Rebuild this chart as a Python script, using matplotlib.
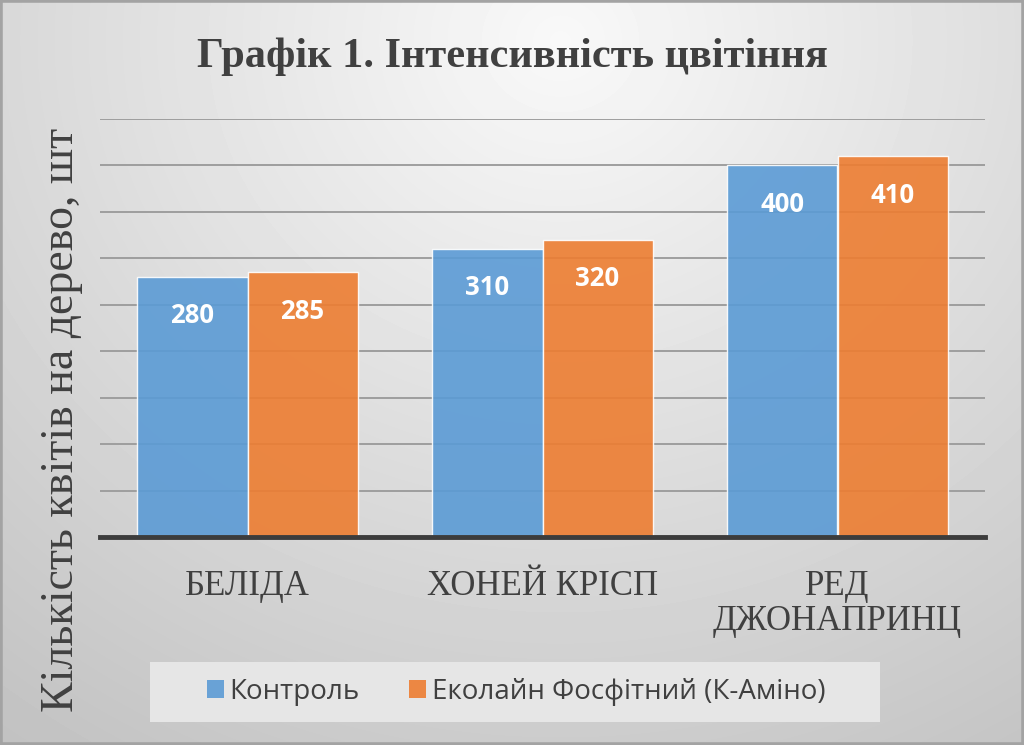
import numpy as np
import matplotlib
matplotlib.use("Agg")
import matplotlib.pyplot as plt
from matplotlib.patches import Rectangle, Patch

# data
categories = ["БЕЛІДА", "ХОНЕЙ КРІСП", "РЕД\nДЖОНАПРИНЦ"]
control = [280, 310, 400]
ecoline = [285, 320, 410]
series_names = ["Контроль", "Еколайн Фосфітний (К-Аміно)"]
title = "Графік 1. Інтенсивність цвітіння"
ylabel = "Кількість квітів на дерево, шт"

W, H = 1024, 745
fig = plt.figure(figsize=(W / 100, H / 100), dpi=100)

# gradient background
bg = fig.add_axes([0, 0, 1, 1], zorder=-10)
yy, xx = np.mgrid[0:H, 0:W]
d = np.sqrt(((xx - 560) / 700.0) ** 2 + ((yy - 40) / 640.0) ** 2)
shade = np.clip(0.975 - 0.16 * d, 0, 1)
bg.imshow(shade, cmap="gray", vmin=0, vmax=1, aspect="auto",
          extent=[0, 1, 0, 1], origin="upper")
bg.set_xlim(0, 1)
bg.set_ylim(0, 1)
bg.axis("off")
bg.add_patch(Rectangle((0, 0), 1, 1, transform=bg.transAxes, fill=False,
                       edgecolor="#a3a3a3", linewidth=4))

# main axes
ax = fig.add_axes([100 / W, 1 - 537 / H, 885 / W, 418 / H])
ax.set_facecolor("none")
x = np.arange(len(categories))
bw = 0.373
b1 = ax.bar(x - bw / 2, control, bw, color="#5B9BD5", alpha=0.9,
            edgecolor="white", linewidth=1, label=series_names[0])
b2 = ax.bar(x + bw / 2, ecoline, bw, color="#ED7D31", alpha=0.9,
            edgecolor="white", linewidth=1, label=series_names[1])

for bars in (b1, b2):
    for r in bars:
        ax.annotate(f"{r.get_height():.0f}",
                    (r.get_x() + r.get_width() / 2, r.get_height()),
                    xytext=(0, -28), textcoords="offset points",
                    ha="center", va="center", color="white",
                    fontsize=18.5, fontweight="bold",
                    family=["Open Sans", "DejaVu Sans"])

ax.set_xlim(-0.5, 2.5)
ax.set_ylim(0, 450)
ax.set_yticks(np.arange(0, 451, 50))
ax.yaxis.grid(True, color="#9e9e9e", linewidth=1.4)
ax.set_axisbelow(True)
ax.tick_params(axis="y", left=False, labelleft=False)
ax.tick_params(axis="x", bottom=False, pad=20)
ax.set_xticks(x)
ax.set_xticklabels(categories, fontsize=25, family="Liberation Serif",
                   color="#404040", linespacing=1.1)
for s in ("top", "right", "left"):
    ax.spines[s].set_visible(False)
ax.spines["bottom"].set_color("#3c3c3c")
ax.spines["bottom"].set_linewidth(3.5)
ax.spines["bottom"].set_zorder(5)

fig.text(0.5, 1 - 57 / H, title, ha="center", va="center",
         fontsize=30.5, fontweight="bold", family="Liberation Serif",
         color="#404040")
fig.text(62 / W, 1 - 420 / H, ylabel, rotation=90, ha="center",
         va="center", fontsize=33, family="Liberation Serif",
         color="#404040")

# legend box
fig.patches.append(Rectangle((150 / W, 1 - 722 / H), 730 / W, 60 / H,
                             transform=fig.transFigure, facecolor="#e6e6e6",
                             edgecolor="none", zorder=1))
handles = [Patch(facecolor="#5B9BD5", alpha=0.9),
           Patch(facecolor="#ED7D31", alpha=0.9)]
leg = fig.legend(handles, series_names, loc="center",
                 bbox_to_anchor=(516 / W, 1 - 692 / H), ncol=2,
                 frameon=False, handlelength=0.6, handleheight=0.6,
                 handletextpad=0.2, columnspacing=1.8,
                 prop={"family": ["Open Sans", "DejaVu Sans"], "size": 20})
for t in leg.get_texts():
    t.set_color("#404040")

fig.savefig("out.png", dpi=100)
